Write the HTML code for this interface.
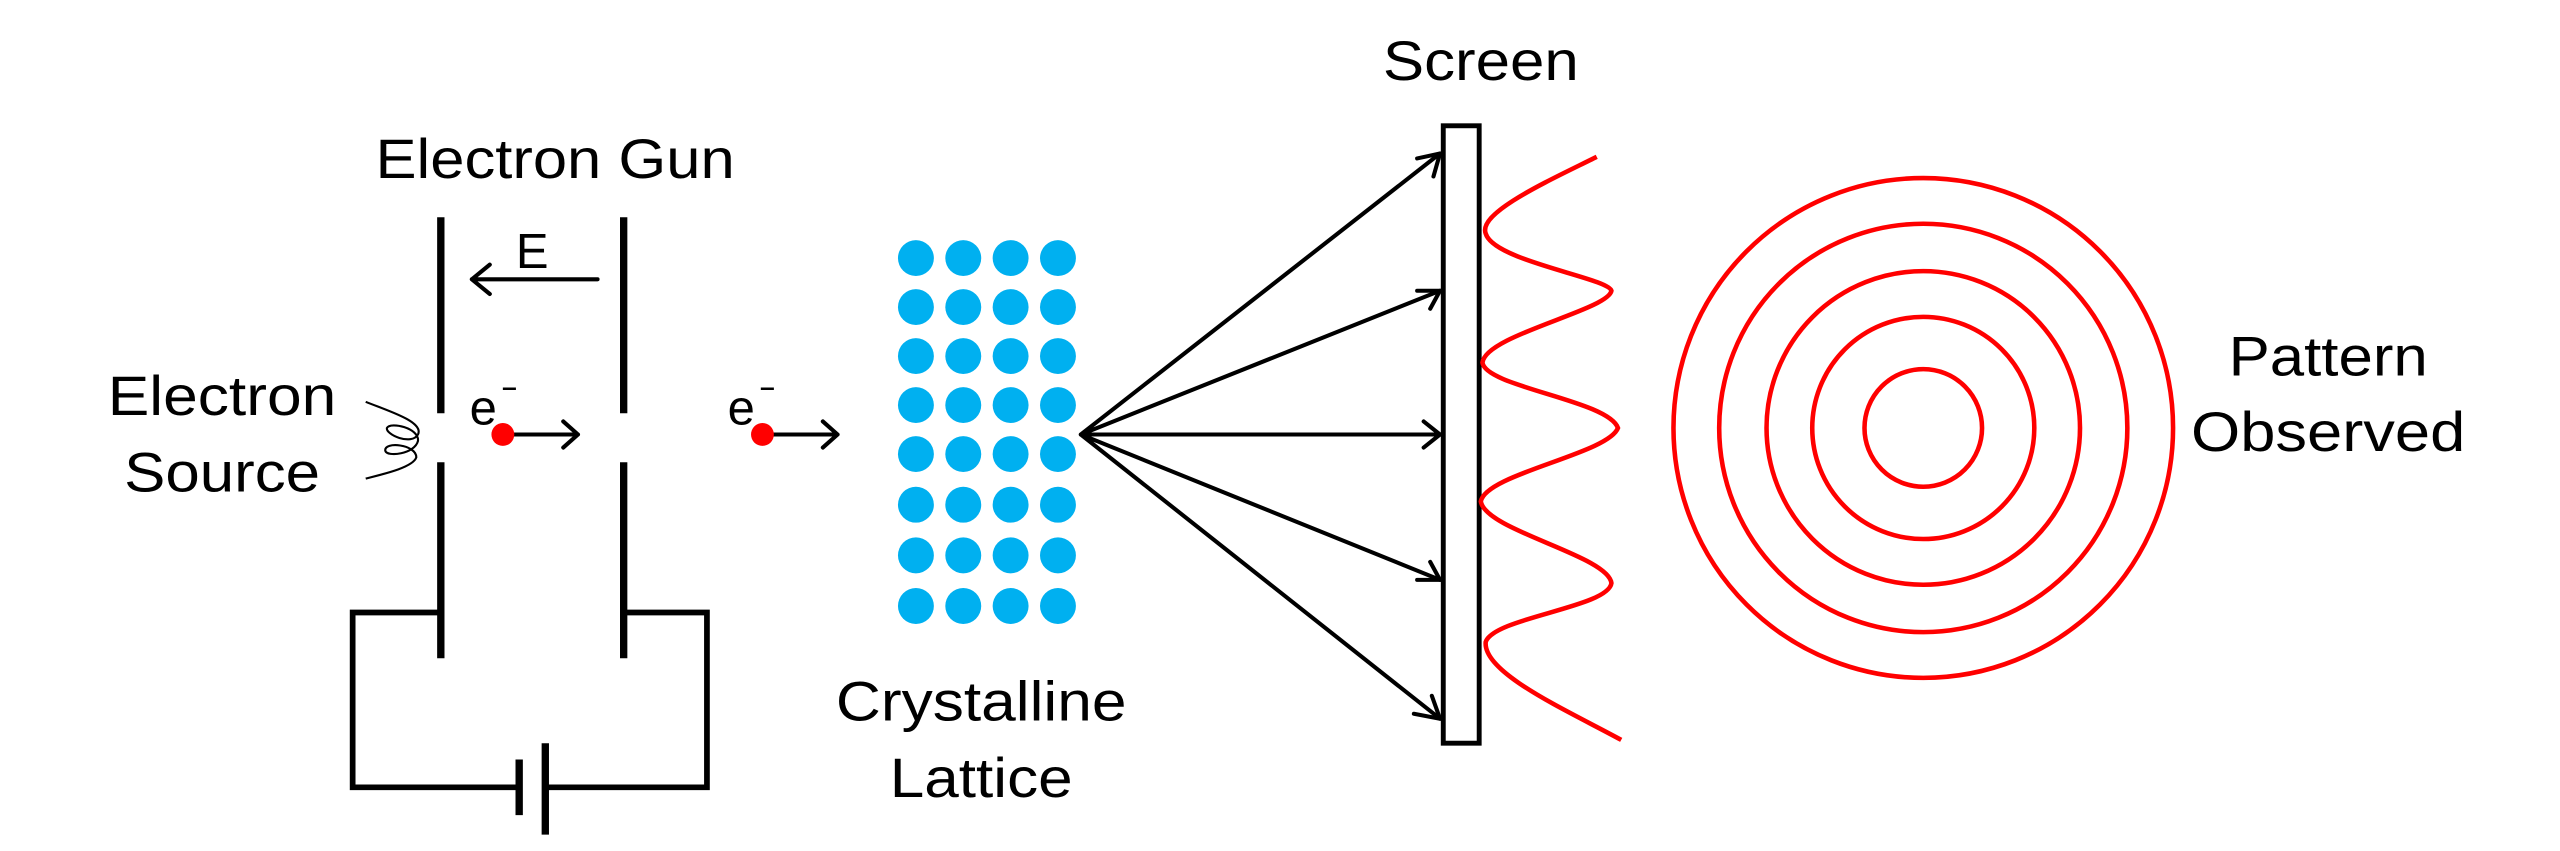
<!DOCTYPE html>
<html><head><meta charset="utf-8"><style>html,body{margin:0;padding:0;background:#fff}svg{display:block}</style></head>
<body>
<svg width="2560" height="851" viewBox="0 0 1568 521" preserveAspectRatio="none" xmlns="http://www.w3.org/2000/svg" font-family="Liberation Sans, sans-serif">
<rect width="1568" height="521" fill="#fff"/>
<g fill="#000" font-size="34">
<text x="340" y="109" text-anchor="middle" textLength="220" lengthAdjust="spacingAndGlyphs">Electron Gun</text>
<text x="136" y="254" text-anchor="middle" textLength="140" lengthAdjust="spacingAndGlyphs">Electron</text>
<text x="136" y="301" text-anchor="middle" textLength="120" lengthAdjust="spacingAndGlyphs">Source</text>
<text x="601" y="441" text-anchor="middle" textLength="178" lengthAdjust="spacingAndGlyphs">Crystalline</text>
<text x="601" y="488" text-anchor="middle" textLength="112" lengthAdjust="spacingAndGlyphs">Lattice</text>
<text x="907" y="49" text-anchor="middle" textLength="120" lengthAdjust="spacingAndGlyphs">Screen</text>
<text x="1426" y="230" text-anchor="middle" textLength="122" lengthAdjust="spacingAndGlyphs">Pattern</text>
<text x="1426" y="276" text-anchor="middle" textLength="168" lengthAdjust="spacingAndGlyphs">Observed</text>
<text x="326" y="164" text-anchor="middle" font-size="30">E</text>
<text x="296" y="260" text-anchor="middle" font-size="30">e</text>
<text x="454" y="260" text-anchor="middle" font-size="30">e</text>
</g>
<g stroke="#000" fill="none" stroke-linecap="butt">
<path d="M308 238h8M466 238h8" stroke-width="1.5"/>
<path d="M270 133v120M270 283v120M382 133v120M382 283v120" stroke-width="4.5"/>
<path d="M270 375H216V482H318M334 482H433V375H382" stroke-width="3.5"/>
<path d="M318 465v34" stroke-width="4.5"/>
<path d="M334 455v56" stroke-width="4.5"/>
<g stroke-width="2.5" stroke-linecap="round" stroke-linejoin="round">
<path d="M366 171H289M300 162l-11 9 11 9"/>
<path d="M314 266H354M345 258l9 8-9 8"/>
<path d="M472 266H513M504 258l9 8-9 8"/>
<path d="M662 266L882 94M662 266L882 178M662 266H882M662 266L882 355M662 266L882 440"/>
<path d="M868 97l14-3-4 14M868 178l14 0-6 11M872 258l10 8-10 8M868 355l14 0-6-11M866 437l16 3-5-14"/>
</g>
<rect x="884" y="77" width="22" height="378" stroke-width="3"/>
<path d="M224 246C236 251 260 258 256 266C252 273 236 266 237 262C239 258 257 262 256 270C254 278 237 280 236 276C235 270 255 272 255 280C253 286 236 290 224 293" stroke-width="1.3"/>
</g>
<g fill="#f00">
<circle cx="308" cy="266" r="7"/>
<circle cx="467" cy="266" r="7"/>
</g>
<g fill="#00b0f0">
<g id="c">
<circle cx="561" cy="158" r="11"/><circle cx="561" cy="188" r="11"/><circle cx="561" cy="218" r="11"/><circle cx="561" cy="248" r="11"/>
<circle cx="561" cy="278" r="11"/><circle cx="561" cy="309" r="11"/><circle cx="561" cy="340" r="11"/><circle cx="561" cy="371" r="11"/>
</g>
<use href="#c" x="29"/><use href="#c" x="58"/><use href="#c" x="87"/>
</g>
<g stroke="#f00" fill="none" stroke-width="2.8">
<path d="M978 96C950 110 905 130 910 143C915 160 985 170 987 178C985 190 910 205 908 222C910 237 985 245 991 262C985 278 910 290 907 307C910 325 985 340 987 357C985 372 915 378 910 393C908 412 960 435 993 453"/>
<circle cx="1178" cy="262" r="153"/>
<circle cx="1178" cy="262" r="125"/>
<circle cx="1178" cy="262" r="96"/>
<circle cx="1178" cy="262" r="68"/>
<circle cx="1178" cy="262" r="36"/>
</g>
</svg>
</body></html>
